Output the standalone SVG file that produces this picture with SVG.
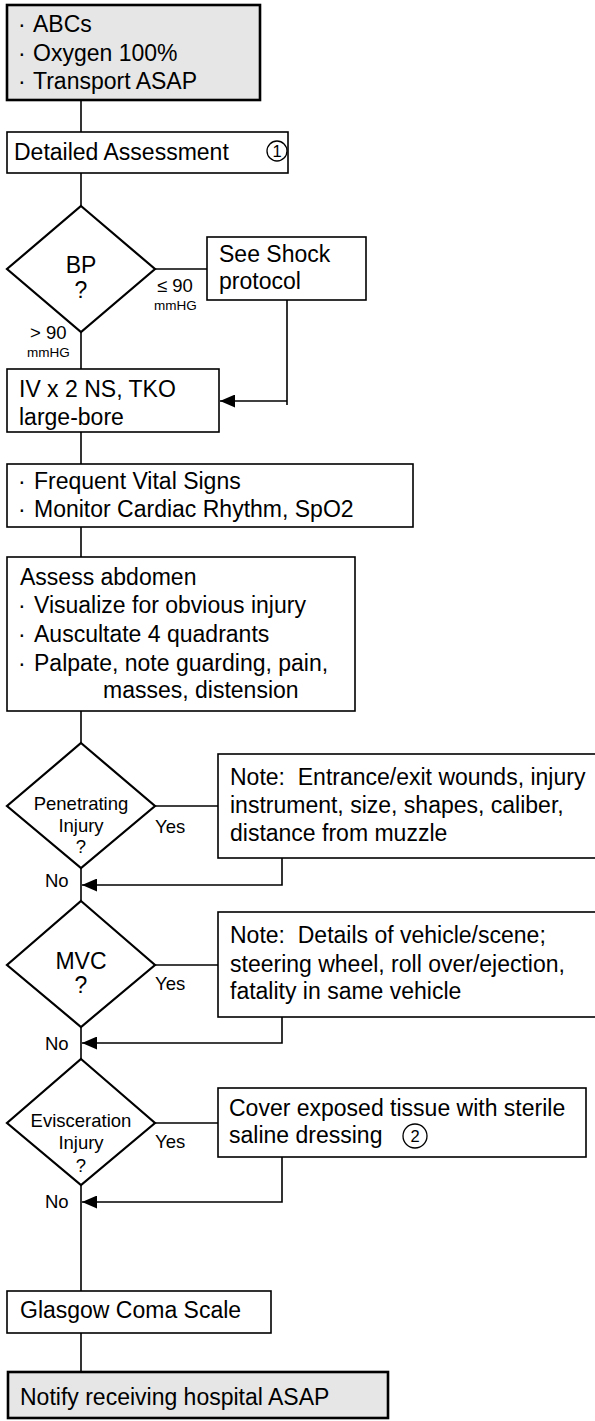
<svg xmlns="http://www.w3.org/2000/svg" width="595" height="1421" viewBox="0 0 595 1421">
<style>
text{font-family:"Liberation Sans",Arial,sans-serif;fill:#000;white-space:pre}
.t{font-size:23px}
.s{font-size:18.5px}
.xs{font-size:13.5px}
.n{font-size:16.5px}
.c{text-anchor:middle}
.box{fill:#fff;stroke:#000;stroke-width:1.6}
.gbox{fill:#e6e6e6;stroke:#000;stroke-width:2.6}
.dia{fill:#fff;stroke:#000;stroke-width:2.2}
.ln{fill:none;stroke:#000;stroke-width:1.6}
.circ{fill:none;stroke:#000;stroke-width:1.3}
</style>
<defs>
<marker id="ah" markerUnits="userSpaceOnUse" markerWidth="15" markerHeight="13" refX="15" refY="6.5" orient="auto">
<path d="M0,0 L15,6.5 L0,13 z" fill="#000"/>
</marker>
</defs>

<g id="connectors">
<line class="ln" x1="81" y1="100" x2="81" y2="132"/>
<line class="ln" x1="81" y1="173" x2="81" y2="206"/>
<line class="ln" x1="155" y1="269" x2="207" y2="269"/>
<line class="ln" x1="81" y1="332" x2="81" y2="369"/>
<line class="ln" x1="287" y1="300" x2="287" y2="405"/>
<line class="ln" x1="287" y1="401" x2="220" y2="401" marker-end="url(#ah)"/>
<line class="ln" x1="81" y1="432" x2="81" y2="464"/>
<line class="ln" x1="81" y1="527" x2="81" y2="557"/>
<line class="ln" x1="81" y1="711" x2="81" y2="743"/>
<line class="ln" x1="155" y1="806" x2="218" y2="806"/>
<line class="ln" x1="81" y1="868" x2="81" y2="901"/>
<polyline class="ln" points="282,858 282,885 82,885" marker-end="url(#ah)"/>
<line class="ln" x1="155" y1="965" x2="218" y2="965"/>
<line class="ln" x1="81" y1="1027" x2="81" y2="1059"/>
<polyline class="ln" points="282,1017 282,1043 82,1043" marker-end="url(#ah)"/>
<line class="ln" x1="155" y1="1123" x2="218" y2="1123"/>
<polyline class="ln" points="282,1157 282,1202 82,1202" marker-end="url(#ah)"/>
<line class="ln" x1="81" y1="1185" x2="81" y2="1291"/>
<line class="ln" x1="81" y1="1333" x2="81" y2="1372"/>
<text class="s" x="157" y="292">≤ 90</text>
<text class="xs" x="154" y="310">mmHG</text>
<text class="s" x="30" y="339">&gt; 90</text>
<text class="xs" x="27" y="357">mmHG</text>
<text class="s" x="155" y="833">Yes</text>
<text class="s" x="45" y="887">No</text>
<text class="s" x="155" y="990">Yes</text>
<text class="s" x="45" y="1050">No</text>
<text class="s" x="155" y="1148">Yes</text>
<text class="s" x="45" y="1208">No</text>
</g>

<g id="start">
<rect class="gbox" x="7" y="5" width="253" height="95"/>
<text class="t"><tspan x="18" y="32">·</tspan><tspan x="33" y="32">ABCs</tspan></text>
<text class="t"><tspan x="18" y="61">·</tspan><tspan x="33" y="61">Oxygen 100%</tspan></text>
<text class="t"><tspan x="18" y="89">·</tspan><tspan x="33" y="89">Transport ASAP</tspan></text>
</g>

<g id="detailed">
<rect class="box" x="7" y="132" width="281" height="41"/>
<text class="t" x="14" y="160">Detailed Assessment</text>
<circle class="circ" cx="277" cy="151" r="10"/>
<text class="n c" x="277" y="157">1</text>
</g>

<g id="bp">
<polygon class="dia" points="81,206 155,269 81,332 7,269"/>
<text class="t c" x="81" y="273">BP</text>
<text class="t c" x="81" y="298">?</text>
</g>

<g id="shock">
<rect class="box" x="207" y="237" width="159" height="63"/>
<text class="t" x="219" y="262">See Shock</text>
<text class="t" x="219" y="289">protocol</text>
</g>

<g id="iv">
<rect class="box" x="7" y="369" width="212" height="63"/>
<text class="t" x="19" y="397">IV x 2 NS, TKO</text>
<text class="t" x="19" y="425">large-bore</text>
</g>

<g id="vitals">
<rect class="box" x="7" y="464" width="406" height="63"/>
<text class="t"><tspan x="18" y="489">·</tspan><tspan x="34" y="489">Frequent Vital Signs</tspan></text>
<text class="t"><tspan x="18" y="517">·</tspan><tspan x="34" y="517">Monitor Cardiac Rhythm, SpO2</tspan></text>
</g>

<g id="assess">
<rect class="box" x="7" y="557" width="348" height="154"/>
<text class="t" x="20" y="585">Assess abdomen</text>
<text class="t"><tspan x="18" y="613">·</tspan><tspan x="34" y="613">Visualize for obvious injury</tspan></text>
<text class="t"><tspan x="18" y="642">·</tspan><tspan x="34" y="642">Auscultate 4 quadrants</tspan></text>
<text class="t"><tspan x="18" y="671">·</tspan><tspan x="34" y="671">Palpate, note guarding, pain,</tspan></text>
<text class="t" x="103" y="698">masses, distension</text>
</g>

<g id="penetrating">
<polygon class="dia" points="81,743 155,806 81,868 7,806"/>
<text class="s c" x="81" y="810">Penetrating</text>
<text class="s c" x="81" y="832">Injury</text>
<text class="s c" x="81" y="853">?</text>
</g>

<g id="note1">
<rect class="box" x="218" y="754" width="380" height="104"/>
<text class="t" x="230" y="785">Note:  Entrance/exit wounds, injury</text>
<text class="t" x="230" y="813">instrument, size, shapes, caliber,</text>
<text class="t" x="230" y="841">distance from muzzle</text>
</g>

<g id="mvc">
<polygon class="dia" points="81,901 155,965 81,1027 7,965"/>
<text class="t c" x="81" y="969">MVC</text>
<text class="t c" x="81" y="993">?</text>
</g>

<g id="note2">
<rect class="box" x="218" y="912" width="380" height="105"/>
<text class="t" x="230" y="943">Note:  Details of vehicle/scene;</text>
<text class="t" x="230" y="972">steering wheel, roll over/ejection,</text>
<text class="t" x="230" y="999">fatality in same vehicle</text>
</g>

<g id="evisceration">
<polygon class="dia" points="81,1059 155,1123 81,1185 7,1123"/>
<text class="s c" x="81" y="1127">Evisceration</text>
<text class="s c" x="81" y="1149">Injury</text>
<text class="s c" x="81" y="1172">?</text>
</g>

<g id="cover">
<rect class="box" x="218" y="1088" width="368" height="69"/>
<text class="t" x="229" y="1116">Cover exposed tissue with sterile</text>
<text class="t" x="229" y="1143">saline dressing</text>
<circle class="circ" cx="415" cy="1136" r="12"/>
<text class="n c" x="415" y="1142">2</text>
</g>

<g id="glasgow">
<rect class="box" x="7" y="1291" width="264" height="42"/>
<text class="t" x="20" y="1318">Glasgow Coma Scale</text>
</g>

<g id="notify">
<rect class="gbox" x="8" y="1372" width="380" height="46"/>
<text class="t" x="20" y="1405">Notify receiving hospital ASAP</text>
</g>
</svg>
